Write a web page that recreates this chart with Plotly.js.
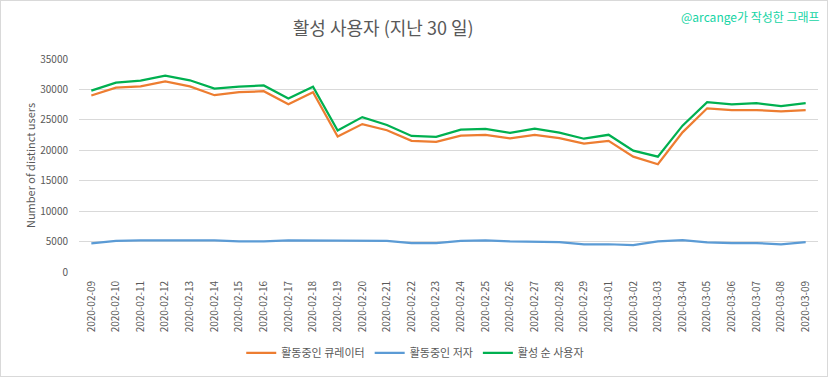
<!DOCTYPE html>
<html><head><meta charset="utf-8">
<script src="https://cdn.plot.ly/plotly-3.0.1.min.js"></script>
<style>
html,body{margin:0;padding:0;background:#fff;}
#wrap{position:relative;width:833px;height:379px;}
#chart{width:833px;height:379px;}
#frame{position:absolute;left:0;top:0;width:828px;height:377px;border:1px solid #d9d9d9;box-sizing:border-box;pointer-events:none;}
</style></head>
<body>
<div id="wrap"><div id="chart"></div><div id="frame"></div></div>
<script>
const dates = ["2020-02-09","2020-02-10","2020-02-11","2020-02-12","2020-02-13","2020-02-14","2020-02-15","2020-02-16","2020-02-17","2020-02-18","2020-02-19","2020-02-20","2020-02-21","2020-02-22","2020-02-23","2020-02-24","2020-02-25","2020-02-26","2020-02-27","2020-02-28","2020-02-29","2020-03-01","2020-03-02","2020-03-03","2020-03-04","2020-03-05","2020-03-06","2020-03-07","2020-03-08","2020-03-09"];
const curators = [29000,30300,30500,31300,30500,29050,29550,29700,27550,29550,22250,24300,23300,21550,21400,22400,22550,21950,22550,21990,21100,21550,18950,17700,22950,26900,26600,26600,26400,26600];
const authors = [4700,5100,5200,5240,5240,5200,5050,5050,5200,5200,5080,5190,5100,4750,4750,5100,5200,5020,4910,4910,4560,4560,4400,5050,5240,4860,4750,4750,4560,4900];
const activeUsers = [29800,31100,31450,32250,31500,30150,30450,30650,28500,30450,23250,25450,24150,22350,22200,23380,23500,22850,23550,22900,21900,22550,19950,18950,24050,27900,27550,27750,27250,27750];
const seriesNames = ["활동중인 큐레이터","활동중인 저자","활성 순 사용자"];
const colors = ["#ED7D31","#5B9BD5","#00B050"];
const yTicks = [0,5000,10000,15000,20000,25000,30000,35000];

const font = "'Noto Sans CJK KR', 'Noto Sans', sans-serif";
const traces = [curators, authors, activeUsers].map((ys, i) => ({
  type: "scatter", mode: "lines", x: dates, y: ys, name: seriesNames[i],
  line: {color: colors[i], width: 2.25}, hoverinfo: "x+y"
}));

const layout = {
  width: 833, height: 379,
  margin: {l: 79, r: 15, t: 59, b: 104},
  paper_bgcolor: "#ffffff", plot_bgcolor: "#ffffff",
  font: {family: font, color: "#595959", size: 10},
  title: {text: "활성 사용자 (지난 30 일)", x: 0.46, xanchor: "center", y: 0.925, yanchor: "middle",
    font: {family: font, size: 18, color: "#595959"}},
  xaxis: {type: "category", range: [-0.5, dates.length - 0.5], autorange: false, automargin: false,
    tickangle: -90, showgrid: false, zeroline: false, showline: false,
    ticks: "", ticklabelstandoff: 6, tickfont: {size: 10, color: "#595959"}},
  yaxis: {range: [0, 35000], autorange: false, automargin: false, tickvals: yTicks, ticktext: yTicks.map(String), showgrid: true,
    gridcolor: "#d9d9d9", gridwidth: 1, zeroline: false, showline: false, ticks: "", ticklabelstandoff: 10,
    tickfont: {size: 10, color: "#595959"},
    title: {text: "Number of distinct users", font: {size: 11, color: "#595959"}, standoff: 2}},
  legend: {orientation: "h", x: 0.455, xanchor: "center", y: -0.38, yanchor: "middle",
    font: {size: 11, color: "#595959"}, itemwidth: 30, traceorder: "normal"},
  showlegend: true,
  annotations: [{text: "@arcange가 작성한 그래프", xref: "paper", yref: "paper",
    x: 1.005, xanchor: "right", y: 1.2, yanchor: "middle", showarrow: false,
    font: {family: font, size: 12, color: "#14D4A4"}}]
};
Plotly.newPlot("chart", traces, layout, {displayModeBar: false, staticPlot: true});
</script>
</body></html>
